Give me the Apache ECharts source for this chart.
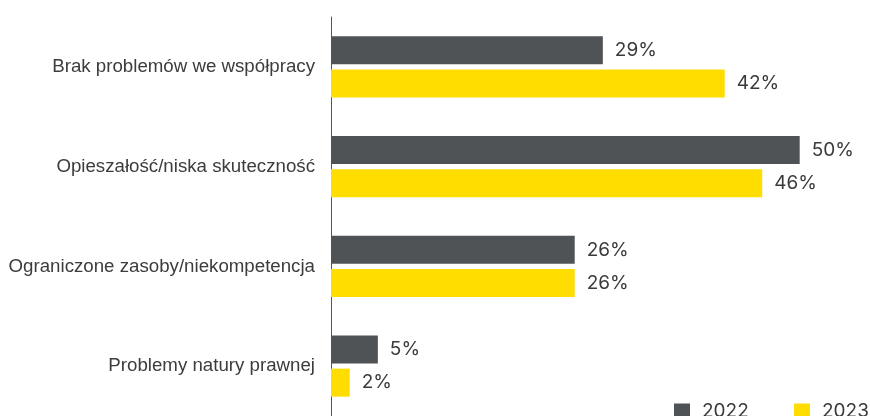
<!DOCTYPE html>
<html>
<head>
<meta charset="utf-8">
<script src="https://cdn.jsdelivr.net/npm/echarts@6/dist/echarts.min.js"></script>
<style>html,body{margin:0;padding:0;background:#fff;}#c{width:870px;height:416px;}</style>
</head>
<body>
<div id="c"></div>
<script>
const categories = ["Brak problemów we współpracy", "Opieszałość/niska skuteczność", "Ograniczone zasoby/niekompetencja", "Problemy natury prawnej"];
const seriesNames = ["2022", "2023"];
const values2022 = [29, 50, 26, 5];
const values2023 = [42, 46, 26, 2];
const colors = ["#505356", "#FFDD00"];

const chart = echarts.init(document.getElementById('c'), null, {renderer: 'canvas'});
const valueFont = {fontFamily: 'Inter', fontSize: 19, color: '#3a3a3a'};
const legendText = {fontFamily: 'Inter', fontSize: 19, color: '#3a3a3a', padding: [0, 0, 0, 7]};
chart.setOption({
  animation: false,
  backgroundColor: '#ffffff',
  grid: {left: 331, right: 0, top: 17, bottom: -5, containLabel: false},
  xAxis: {type: 'value', min: 0, max: 57.5, show: false},
  yAxis: {
    type: 'category', data: categories, inverse: true,
    axisLine: {show: true, lineStyle: {color: '#555', width: 1}},
    axisTick: {show: false},
    axisLabel: {margin: 16, fontFamily: 'Liberation Sans', fontSize: 18.7, color: '#3c3c3c'}
  },
  legend: [
    {data: [seriesNames[0]], left: 669, top: 397, itemWidth: 16, itemHeight: 16, icon: 'rect', textStyle: legendText},
    {data: [seriesNames[1]], left: 789, top: 397, itemWidth: 16, itemHeight: 16, icon: 'rect', textStyle: legendText}
  ],
  series: [
    {name: seriesNames[0], type: 'bar', data: values2022, barWidth: 28, barGap: '18%',
     itemStyle: {color: colors[0]},
     label: {show: true, position: 'right', distance: 12, formatter: '{c}%', ...valueFont}},
    {name: seriesNames[1], type: 'bar', data: values2023, barWidth: 28, barGap: '18%',
     itemStyle: {color: colors[1]},
     label: {show: true, position: 'right', distance: 12, formatter: '{c}%', ...valueFont}}
  ]
});
</script>
</body>
</html>
